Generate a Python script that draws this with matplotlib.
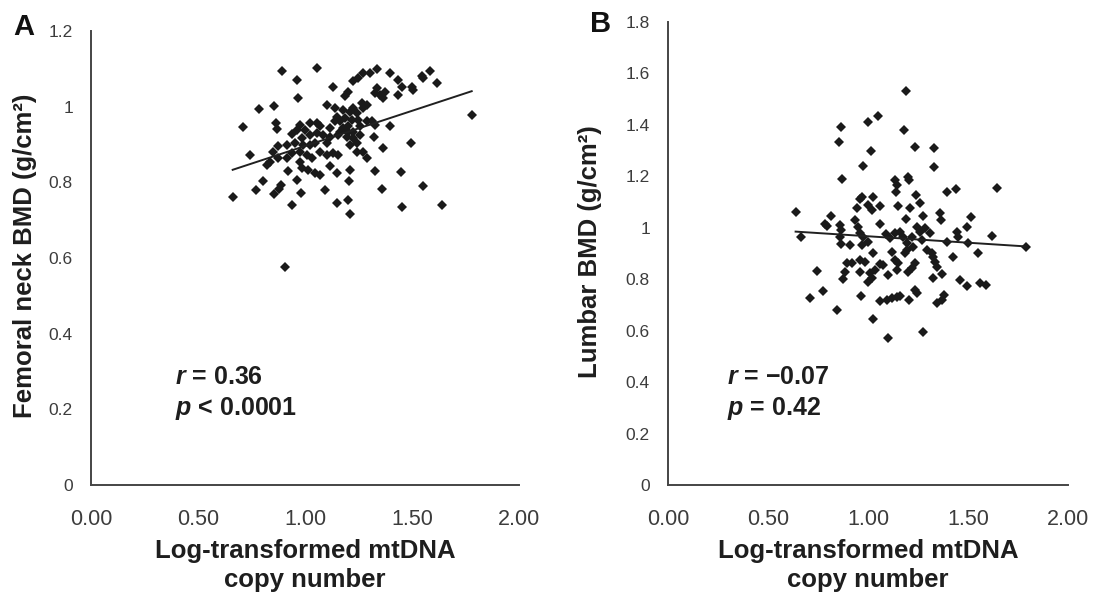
import matplotlib
matplotlib.use("Agg")
import matplotlib.pyplot as plt
import numpy as np

plt.rcParams['font.family'] = ['Liberation Sans', 'DejaVu Sans']
plt.rcParams['mathtext.fontset'] = 'custom'
plt.rcParams['mathtext.bfit'] = 'Liberation Sans:italic:bold'
plt.rcParams['mathtext.it'] = 'Liberation Sans:italic'
plt.rcParams['mathtext.bf'] = 'Liberation Sans:bold'
plt.rcParams['mathtext.rm'] = 'Liberation Sans'

# ---------------- Panel A: femoral neck BMD ----------------
a_x = [0.891, 1.058, 0.964, 1.133, 1.270, 1.304, 1.335, 1.249, 1.226, 1.397,
       1.436, 1.452, 1.499, 1.506, 1.545, 1.584, 1.619, 1.553,
       0.966, 0.787, 0.857, 1.203, 1.187, 1.335, 1.327, 1.351, 1.374, 1.366,
       1.436, 1.265, 1.288, 1.273, 1.101, 1.140, 1.179, 1.210, 1.226, 1.242, 1.779,
       0.709, 0.865, 0.868, 0.977, 1.024, 1.055, 1.070, 0.938, 0.985, 1.117,
       1.140, 1.164, 1.179, 1.203, 1.226, 1.257, 1.288, 1.312, 1.327, 1.397,
       1.323, 1.363, 1.494, 1.024, 1.055, 1.086, 1.117, 1.156, 1.195, 1.226,
       0.953, 0.992, 1.024, 1.210, 1.242,
       0.743, 0.876, 0.852, 0.821, 0.837, 0.876, 0.938, 0.977, 1.008, 1.031,
       1.070, 1.101, 1.133, 1.156, 1.242, 1.273, 1.288, 0.977, 0.985, 1.016,
       1.047, 1.070, 0.922, 1.117, 1.148, 1.210, 1.327, 1.449,
       0.802, 0.771, 0.855, 0.888, 0.880, 0.961, 0.982, 0.938, 0.662, 1.094,
       1.148, 1.203, 1.210, 1.206, 1.362, 1.452, 1.553, 1.639, 0.907,
       1.148, 1.187, 1.218, 1.164, 1.203, 1.257, 1.249,
       1.000, 0.961, 0.915, 0.915, 1.047, 1.101]
a_y = [1.093, 1.102, 1.071, 1.052, 1.089, 1.089, 1.100, 1.075, 1.067, 1.090,
       1.071, 1.053, 1.053, 1.044, 1.082, 1.095, 1.062, 1.075,
       1.022, 0.994, 1.002, 1.040, 1.027, 1.049, 1.036, 1.031, 1.040, 1.022,
       1.031, 1.009, 1.005, 0.996, 1.005, 0.996, 0.992, 0.987, 0.996, 0.983, 0.977,
       0.945, 0.956, 0.941, 0.952, 0.956, 0.956, 0.948, 0.927, 0.917, 0.943,
       0.961, 0.961, 0.943, 0.948, 0.934, 0.948, 0.961, 0.961, 0.952, 0.948,
       0.921, 0.892, 0.905, 0.926, 0.930, 0.926, 0.921, 0.926, 0.921, 0.917,
       0.904, 0.899, 0.899, 0.899, 0.904,
       0.873, 0.895, 0.881, 0.846, 0.855, 0.864, 0.877, 0.881, 0.873, 0.864,
       0.881, 0.873, 0.877, 0.873, 0.881, 0.881, 0.864, 0.855, 0.837, 0.833,
       0.824, 0.820, 0.831, 0.842, 0.824, 0.833, 0.830, 0.826,
       0.804, 0.780, 0.769, 0.793, 0.783, 0.805, 0.773, 0.741, 0.761, 0.780,
       0.745, 0.752, 0.717, 0.804, 0.783, 0.736, 0.789, 0.741, 0.575,
       0.974, 0.970, 0.965, 0.934, 0.934, 0.926, 0.965,
       0.939, 0.939, 0.899, 0.864, 0.904, 0.904]
a_slope, a_intercept = 0.186, 0.710
a_stats = ["0.36", "< 0.0001"]

# ---------------- Panel B: lumbar BMD ----------------
b_x = [1.190, 0.865, 0.857, 1.002, 1.048, 1.180, 1.015, 1.235, 1.330, 0.973,
       1.332, 0.872, 1.135, 1.143, 1.140, 1.202, 1.207, 1.393, 1.440, 1.643,
       0.968, 0.960, 1.027, 1.002, 1.018, 1.060, 0.943, 1.152, 1.210, 1.240,
       1.260, 0.638, 0.813, 0.785, 0.793, 0.860, 0.865, 0.935, 0.952, 0.960,
       1.060, 1.190, 1.277, 1.360, 1.363, 1.515, 1.493, 1.443, 1.452, 1.618,
       0.663, 0.860, 0.865, 0.910, 0.977, 1.002, 0.968, 1.090, 1.110, 1.135,
       1.160, 1.177, 1.193, 1.218, 1.243, 1.260, 1.285, 1.310, 1.268, 1.227,
       1.193, 1.185, 1.393, 1.502, 1.788, 1.027, 1.118, 1.135, 1.152, 1.293,
       1.318, 1.327, 1.335, 1.343, 1.552, 1.427, 0.893, 0.918, 0.885, 0.960,
       0.985, 1.060, 1.077, 0.960, 1.010, 1.035, 1.102, 1.143, 1.202, 1.218,
       1.235, 0.743, 0.877, 1.002, 1.018, 1.323, 1.368, 1.460, 1.497, 1.560,
       1.590, 0.773, 0.710, 0.965, 1.060, 1.093, 1.118, 1.143, 1.160, 1.205,
       1.235, 1.243, 1.343, 1.368, 1.380, 0.843, 1.027, 1.102, 1.273]
b_y = [1.533, 1.391, 1.335, 1.413, 1.435, 1.380, 1.300, 1.313, 1.309, 1.242,
       1.235, 1.190, 1.186, 1.166, 1.141, 1.199, 1.186, 1.141, 1.150, 1.156,
       1.121, 1.111, 1.121, 1.089, 1.069, 1.085, 1.076, 1.085, 1.076, 1.128,
       1.098, 1.063, 1.046, 1.013, 1.008, 1.011, 0.991, 1.030, 1.004, 0.979,
       1.015, 1.033, 1.046, 1.059, 1.030, 1.041, 1.004, 0.985, 0.966, 0.969,
       0.966, 0.966, 0.937, 0.933, 0.966, 0.946, 0.933, 0.976, 0.959, 0.979,
       0.985, 0.966, 0.940, 0.966, 1.004, 0.985, 0.998, 0.979, 0.953, 0.927,
       0.914, 0.901, 0.946, 0.940, 0.927, 0.901, 0.907, 0.875, 0.862, 0.914,
       0.901, 0.888, 0.868, 0.849, 0.901, 0.888, 0.864, 0.862, 0.829, 0.875,
       0.868, 0.859, 0.855, 0.829, 0.823, 0.836, 0.817, 0.836, 0.829, 0.842,
       0.862, 0.833, 0.801, 0.791, 0.804, 0.804, 0.819, 0.797, 0.775, 0.784,
       0.778, 0.756, 0.726, 0.735, 0.715, 0.719, 0.726, 0.730, 0.735, 0.719,
       0.758, 0.745, 0.709, 0.719, 0.739, 0.680, 0.644, 0.573, 0.594]
b_slope, b_intercept = -0.050, 1.017
b_stats = ["\u22120.07", "= 0.42"]

x_ticks = [0.0, 0.5, 1.0, 1.5, 2.0]
x_ticklabels = ["0.00", "0.50", "1.00", "1.50", "2.00"]
a_yticks = [0.0, 0.2, 0.4, 0.6, 0.8, 1.0, 1.2]
a_yticklabels = ["0", "0.2", "0.4", "0.6", "0.8", "1", "1.2"]
b_yticks = [0.0, 0.2, 0.4, 0.6, 0.8, 1.0, 1.2, 1.4, 1.6, 1.8]
b_yticklabels = ["0", "0.2", "0.4", "0.6", "0.8", "1", "1.2", "1.4", "1.6", "1.8"]

xlabel = "Log-transformed mtDNA\ncopy number"
a_ylabel = "Femoral neck BMD (g/cm\u00b2)"
b_ylabel = "Lumbar BMD (g/cm\u00b2)"

W, H = 1095, 595
fig = plt.figure(figsize=(W / 100, H / 100), dpi=100)
axA = fig.add_axes([91 / W, 110 / H, 428 / W, 454 / H])
axB = fig.add_axes([668 / W, 110 / H, 400 / W, 463 / H])

mk_color = "#1a1a1a"
spine_color = "#454545"
tick_color = "#3c3c3c"
text_color = "#1e1e1e"
LABEL_FS = 18.5


def style(ax, yticks, yticklabels, ymax):
    ax.set_xlim(0, 2.0)
    ax.set_ylim(0, ymax)
    ax.set_xticks(x_ticks)
    ax.set_xticklabels(x_ticklabels)
    ax.set_yticks(yticks)
    ax.set_yticklabels(yticklabels)
    for s in ["top", "right"]:
        ax.spines[s].set_visible(False)
    for s in ["left", "bottom"]:
        ax.spines[s].set_color(spine_color)
        ax.spines[s].set_linewidth(1.4)
    ax.tick_params(axis="x", length=0, pad=17, labelsize=15.5, colors=tick_color)
    ax.tick_params(axis="y", length=0, pad=13, labelsize=12.5, colors=tick_color)
    ax.set_xlabel(xlabel, fontsize=LABEL_FS, fontweight="bold", color=text_color,
                  linespacing=1.25, labelpad=7)
    ax.patch.set_visible(False)


def draw(ax, xs, ys, slope, intercept):
    xs = np.asarray(xs)
    ax.plot(xs, ys, linestyle="none", marker="D", markersize=5.5,
            color=mk_color, markeredgewidth=0)
    lx = np.array([xs.min(), xs.max()])
    ax.plot(lx, slope * lx + intercept, color="#202020", linewidth=1.4)


style(axA, a_yticks, a_yticklabels, 1.2)
style(axB, b_yticks, b_yticklabels, 1.8)
draw(axA, a_x, a_y, a_slope, a_intercept)
draw(axB, b_x, b_y, b_slope, b_intercept)

axA.set_ylabel(a_ylabel, fontsize=LABEL_FS, fontweight="bold", color=text_color)
axA.yaxis.set_label_coords(-0.126, 0.505)
axB.set_ylabel(b_ylabel, fontsize=LABEL_FS, fontweight="bold", color=text_color)
axB.yaxis.set_label_coords(-0.165, 0.505)

# panel letters
fig.text(24 / W, 1 - 27 / H, "A", fontsize=21, fontweight="bold", color="#111111",
         ha="center", va="center")
fig.text(601 / W, 1 - 24 / H, "B", fontsize=21, fontweight="bold", color="#111111",
         ha="center", va="center")

# statistics
def stats(ax, x0, y1, y2, rtxt, ptxt):
    ax.text(x0, y1, r"$\mathbfit{r}$ = " + rtxt, transform=ax.transAxes,
            fontsize=18, fontweight="bold", color=text_color, va="center", ha="left")
    ax.text(x0, y2, r"$\mathbfit{p}$ " + ptxt, transform=ax.transAxes,
            fontsize=18, fontweight="bold", color=text_color, va="center", ha="left")

stats(axA, (175 - 91) / 428, (485 - 377) / 454, (485 - 408) / 454, a_stats[0], a_stats[1])
stats(axB, (727 - 668) / 400, (485 - 377) / 463, (485 - 408) / 463, b_stats[0], b_stats[1])

fig.savefig("out.png", dpi=100)
